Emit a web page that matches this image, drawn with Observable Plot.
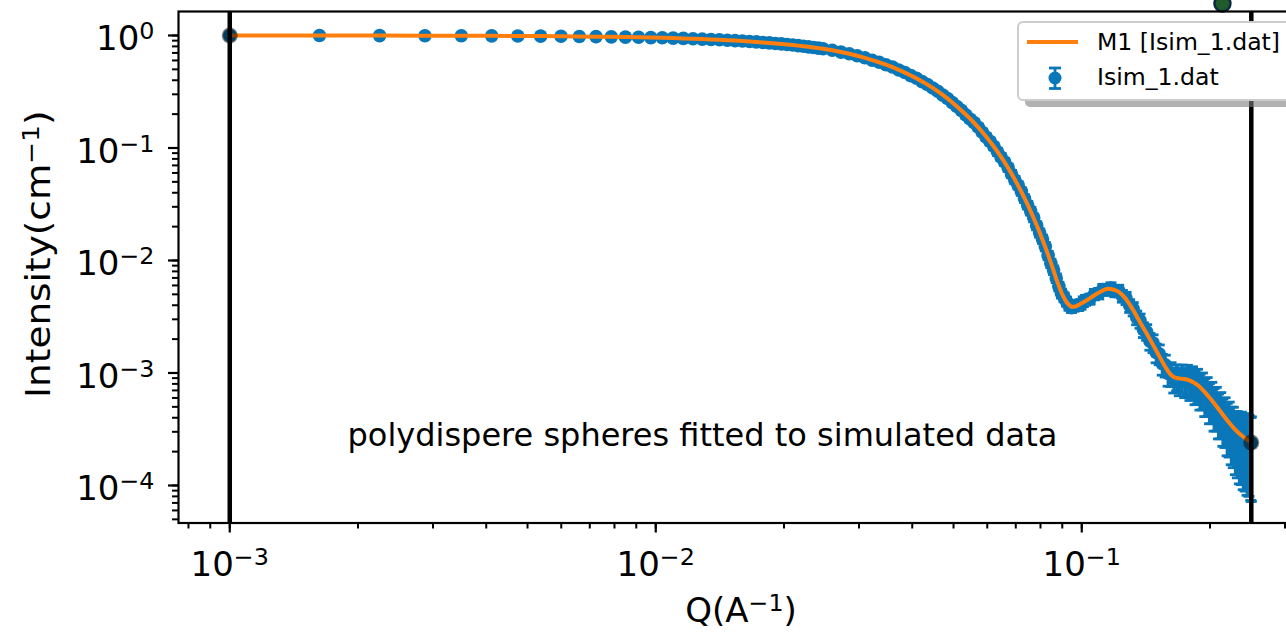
<!DOCTYPE html>
<html><head><meta charset="utf-8">
<script src="https://cdn.jsdelivr.net/npm/d3@7"></script>
<script src="https://cdn.jsdelivr.net/npm/@observablehq/plot@0.6"></script>
<style>
html,body{margin:0;padding:0;background:#fff;overflow:hidden;}
#chart{position:relative;width:1286px;height:636px;overflow:hidden;}
</style></head><body><div id="chart"></div>
<script>
// ---- data: scattering vector Q (1/A) ----
const q = [
0.001, 0.001624, 0.002248, 0.002872, 0.003496, 0.00412, 0.004744, 0.005368, 0.005992, 0.006616,
0.00724, 0.007864, 0.008488, 0.009112, 0.009736, 0.01036, 0.010984, 0.011608, 0.012232, 0.012856,
0.01348, 0.014104, 0.014728, 0.015352, 0.015976, 0.0166, 0.017224, 0.017848, 0.018472, 0.019096,
0.01972, 0.020344, 0.020968, 0.021592, 0.022216, 0.02284, 0.023464, 0.024088, 0.024712,
0.02596, 0.027208, 0.028456, 0.029704, 0.030952, 0.0322, 0.033448, 0.034696, 0.035944, 0.037192,
0.03844, 0.039688, 0.040936, 0.042184, 0.043432, 0.04468, 0.045928, 0.047176, 0.048424, 0.049672,
0.05092, 0.052168, 0.053416, 0.054664, 0.055912, 0.05716, 0.058408, 0.059656, 0.060904, 0.062152,
0.0634, 0.064648, 0.065896, 0.067144, 0.068392, 0.06964, 0.070888, 0.072136, 0.073384, 0.074632,
0.07588, 0.077128, 0.078376, 0.079624, 0.080872, 0.08212, 0.083368, 0.084616, 0.085864, 0.087112,
0.08836, 0.089608, 0.090856, 0.092104, 0.093352, 0.0946, 0.095848, 0.097096, 0.098344, 0.099592,
0.10084, 0.102088,
0.104584, 0.10708, 0.109576, 0.112072, 0.114568, 0.117064, 0.11956, 0.122056, 0.124552, 0.127048,
0.129544, 0.13204, 0.134536, 0.137032, 0.139528, 0.142024, 0.14452, 0.147016, 0.149512, 0.152008,
0.154504, 0.157, 0.159496, 0.161992, 0.164488, 0.166984, 0.16948, 0.171976, 0.174472, 0.176968,
0.179464, 0.18196, 0.184456, 0.186952, 0.189448, 0.191944, 0.19444, 0.196936, 0.199432, 0.201928,
0.204424, 0.20692, 0.209416, 0.211912, 0.214408, 0.216904, 0.2194, 0.221896, 0.224392, 0.226888,
0.229384, 0.23188, 0.234376, 0.236872, 0.239368, 0.241864, 0.24436, 0.246856, 0.249352, 0.249976];

// simulated intensity (Isim_1.dat), cm^-1
const iData = [
1.000, 0.999, 0.998, 0.996, 0.994, 0.993, 0.990, 0.987, 0.985, 0.980,
0.977, 0.973, 0.968, 0.964, 0.958, 0.954, 0.947, 0.942, 0.936, 0.929,
0.922, 0.916, 0.908, 0.900, 0.893, 0.884, 0.877, 0.867, 0.860, 0.850,
0.842, 0.831, 0.823, 0.812, 0.803, 0.792, 0.783, 0.772, 0.763,
0.740, 0.712, 0.689, 0.660, 0.634, 0.603, 0.579, 0.549, 0.524, 0.494,
0.469, 0.440, 0.417, 0.389, 0.367, 0.341, 0.319, 0.295, 0.275, 0.253,
0.234, 0.216, 0.197, 0.181, 0.168, 0.153, 0.138, 0.125, 0.1145, 0.1035,
0.0925, 0.0830, 0.0752, 0.0670, 0.0588, 0.0520, 0.0466, 0.0411, 0.0356, 0.0311,
0.0275, 0.0240, 0.0204, 0.0176, 0.0155, 0.0133, 0.0111, 0.00945, 0.00822, 0.00698,
0.00588, 0.00510, 0.00472, 0.00433, 0.00398, 0.00381, 0.00392, 0.00401, 0.00398, 0.00409,
0.00432, 0.00445,
0.00456, 0.00500, 0.00510, 0.00553, 0.00551, 0.00569, 0.00538, 0.00539, 0.00484, 0.00463,
0.00397, 0.00372, 0.00312, 0.00292, 0.00243, 0.00232, 0.00192, 0.00185, 0.00152, 0.00148,
0.00121, 0.00118, 0.000990, 0.000995, 0.000885, 0.000935, 0.000860, 0.000920, 0.000850, 0.000900,
0.000825, 0.000860, 0.000780, 0.000805, 0.000720, 0.000735, 0.000650, 0.000660, 0.000580, 0.000590,
0.000515, 0.000525, 0.000455, 0.000465, 0.000405, 0.000410, 0.000360, 0.000365, 0.000325, 0.000320,
0.000290, 0.000285, 0.000265, 0.000275, 0.000262, 0.000262, 0.000248, 0.000250, 0.000238, 0.000240];

// relative uncertainty of each simulated point
const relErr = [
0.005,0.005,0.005,0.005,0.005,0.005,0.005,0.005,0.005,0.005,
0.006,0.007,0.008,0.009,0.010,0.012,0.014,0.016,0.018,0.020,
0.021,0.022,0.023,0.024,0.025,0.026,0.027,0.028,0.029,0.030,
0.031,0.032,0.033,0.034,0.035,0.036,0.037,0.038,0.039,
0.040,0.041,0.042,0.043,0.044,0.045,0.046,0.047,0.048,0.049,
0.050,0.051,0.052,0.053,0.054,0.055,0.056,0.057,0.058,0.059,
0.060,0.061,0.062,0.063,0.064,0.065,0.066,0.067,0.068,0.069,
0.070,0.071,0.072,0.073,0.074,0.075,0.076,0.077,0.078,0.079,
0.080,0.081,0.082,0.083,0.084,0.085,0.086,0.087,0.088,0.089,
0.090,0.091,0.092,0.093,0.094,0.095,0.096,0.097,0.098,0.099,
0.100,0.102,
0.104,0.106,0.108,0.11,0.112,0.114,0.116,0.118,0.12,0.125,
0.13,0.135,0.14,0.145,0.15,0.16,0.17,0.18,0.19,0.20,
0.21,0.22,0.23,0.24,0.25,0.26,0.27,0.28,0.29,0.30,
0.31,0.32,0.33,0.34,0.35,0.36,0.37,0.38,0.39,0.40,
0.41,0.42,0.43,0.44,0.45,0.47,0.49,0.51,0.53,0.55,
0.57,0.59,0.61,0.63,0.65,0.66,0.67,0.68,0.69,0.70];

// model M1 (polydisperse spheres) on the same Q grid
const iFit = [
0.9996, 0.9988, 0.9978, 0.9963, 0.9946, 0.9925, 0.9900, 0.9873, 0.9842, 0.9807,
0.9770, 0.9729, 0.9685, 0.9637, 0.9587, 0.9534, 0.9477, 0.9418, 0.9356, 0.9291,
0.9223, 0.9153, 0.9080, 0.9004, 0.8926, 0.8846, 0.8763, 0.8678, 0.8591, 0.8502,
0.8411, 0.8318, 0.8223, 0.8126, 0.8028, 0.7928, 0.7827, 0.7724, 0.7621,
0.739, 0.714, 0.688, 0.661, 0.633, 0.605, 0.578, 0.550, 0.523, 0.4955,
0.468, 0.4413, 0.4157, 0.3905, 0.3659, 0.3419, 0.3186, 0.2961, 0.2745, 0.2535,
0.2336, 0.2154, 0.1982, 0.1822, 0.1668, 0.1525, 0.1386, 0.1258, 0.1139, 0.1030,
0.09286, 0.0835, 0.07464, 0.0666, 0.05916, 0.05245, 0.04631, 0.0408, 0.0358, 0.03133,
0.02733, 0.02377, 0.02059, 0.01779, 0.01531, 0.01314, 0.01122, 0.00957, 0.008118, 0.00687,
0.005943, 0.005188, 0.004656, 0.004266, 0.004027, 0.003873, 0.00387, 0.003936, 0.004027, 0.00414,
0.004256, 0.004365,
0.004624, 0.004909, 0.005176, 0.00542, 0.005598, 0.005572, 0.00547, 0.005272, 0.004943, 0.004539,
0.004074, 0.003622, 0.003199, 0.002825, 0.002512, 0.002239, 0.001995, 0.001778, 0.001585, 0.001413,
0.001262, 0.001135, 0.001033, 0.0009616, 0.0009204, 0.0009016, 0.0008933, 0.0008892, 0.0008831, 0.000871,
0.0008551, 0.0008337, 0.0008091, 0.0007816, 0.0007499, 0.0007129, 0.0006761, 0.0006397, 0.0006053, 0.0005715,
0.0005395, 0.0005082, 0.0004786, 0.0004519, 0.0004256, 0.0004018, 0.0003802, 0.0003606, 0.0003428, 0.0003266,
0.0003126, 0.0003006, 0.0002897, 0.0002799, 0.000271, 0.000263, 0.0002559, 0.0002495, 0.0002432, 0.0002418];

// fit range limits and their end markers
const fitRangeQ = [0.001, 0.25];
const fitEndI = [1.0, 0.000241];
// stray marker above the frame
const extraQ = [0.2139];
const extraI = [1.925];

const seriesNames = ["M1 [Isim_1.dat]", "Isim_1.dat"];
const annotationText = ["polydispere spheres fitted to simulated data"];
const annotationQ = [0.01287];
const annotationI = [2.78e-4];

const yTicks = [1, 0.1, 0.01, 0.001, 0.0001];
const yTickLabels = ["10⁰", "10⁻¹", "10⁻²", "10⁻³", "10⁻⁴"];
const xTicks = [0.001, 0.01, 0.1];
const xTickLabels = ["10⁻³", "10⁻²", "10⁻¹"];
const xLabel = ["Q(A", "−1", ")"];
const yLabel = ["Intensity(cm", "−1", ")"];

// ---- build tables ----
const rows = q.map((v, k) => ({q: v, i: iData[k], lo: iData[k] * (1 - relErr[k]), hi: iData[k] * (1 + relErr[k])}));
const fitRows = q.map((v, k) => ({q: v, i: iFit[k]}));
const endRows = fitRangeQ.map((v, k) => ({q: v, i: fitEndI[k]}));
const extraRows = extraQ.map((v, k) => ({q: v, i: extraI[k]}));
const noteRows = annotationText.map((t, k) => ({q: annotationQ[k], i: annotationI[k], t}));

const blue = "#0a77b9", orange = "#ff7f0e";
const capSymbol = {draw(ctx) { ctx.moveTo(-5.5, 0); ctx.lineTo(5.5, 0); }};

const chart = Plot.plot({
  width: 1286, height: 636,
  marginLeft: 178, marginRight: -18, marginTop: 11, marginBottom: 113.5,
  x: {type: "log", domain: [7.58e-4, 0.3333]},
  y: {type: "log", domain: [4.64e-5, 1.634]},
  style: {fontFamily: "DejaVu Sans", fontSize: "34px", color: "black", background: "white"},
  marks: [
    Plot.ruleX(rows, {x: "q", y1: "lo", y2: "hi", stroke: blue, strokeWidth: 3}),
    Plot.dot(rows, {x: "q", y: "lo", symbol: capSymbol, r: 6, stroke: blue, fill: "none", strokeWidth: 2.8}),
    Plot.dot(rows, {x: "q", y: "hi", symbol: capSymbol, r: 6, stroke: blue, fill: "none", strokeWidth: 2.8}),
    Plot.dot(rows, {x: "q", y: "i", r: 6.8, fill: blue, stroke: "none"}),
    Plot.line(fitRows, {x: "q", y: "i", stroke: orange, strokeWidth: 4}),
    Plot.ruleX(fitRangeQ, {stroke: "black", strokeWidth: 4.5}),
    Plot.dot(endRows, {x: "q", y: "i", r: 8, fill: "black", fillOpacity: 0.5, stroke: "none"}),
    Plot.dot(extraRows, {x: "q", y: "i", r: 8, fill: "#1f5c2b", stroke: "#0c2a44", strokeWidth: 2.5}),
    Plot.text(noteRows, {x: "q", y: "i", text: "t", fontSize: 32, fontFamily: "DejaVu Sans", fill: "black"}),
    Plot.frame({stroke: "black", strokeWidth: 2.2}),
    Plot.axisY({ticks: 20, tickSize: 6, tickFormat: () => "", strokeWidth: 2, label: null}),
    Plot.axisY(yTicks, {tickSize: 10, tickPadding: 14, tickFormat: d => yTickLabels[yTicks.indexOf(d)], strokeWidth: 2.2, label: null}),
    Plot.axisX({ticks: 20, tickSize: 6, tickFormat: () => "", strokeWidth: 2, label: null}),
    Plot.axisX(xTicks, {tickSize: 10, tickPadding: 18.4, tickFormat: d => xTickLabels[xTicks.indexOf(d)], strokeWidth: 2.2, label: null})
  ]
});
document.getElementById("chart").appendChild(chart);

// ---- superscripts in tick labels ----
const supMap = {"⁰":"0","¹":"1","²":"2","³":"3","⁴":"4","⁵":"5","⁶":"6","⁷":"7","⁸":"8","⁹":"9","⁻":"−"};
const ns = "http://www.w3.org/2000/svg";
chart.querySelectorAll("text").forEach(el => {
  const s = el.textContent;
  const m = /^10([⁰¹²³⁴⁵⁶⁷⁸⁹⁻]+)$/.exec(s);
  if (!m) return;
  const sup = [...m[1]].map(c => supMap[c]).join("");
  let isY = false;
  for (let p = el.parentNode; p && p !== chart; p = p.parentNode) {
    if ((p.getAttribute && (p.getAttribute("aria-label") || "")).includes("y-axis")) isY = true;
  }
  el.textContent = "";
  const a = document.createElementNS(ns, "tspan"); a.textContent = "10"; el.appendChild(a);
  const b = document.createElementNS(ns, "tspan"); b.textContent = sup;
  b.setAttribute("font-size", "23.8px"); b.setAttribute("dy", "-11"); el.appendChild(b);
  if (isY) { el.removeAttribute("dy"); el.setAttribute("y", "15"); }
});

// ---- axis labels ----
const svg = d3.select(chart);
function supLabel(g, parts) {
  g.append("tspan").text(parts[0]);
  g.append("tspan").attr("font-size", "23.8px").attr("dy", -11).text(parts[1]);
  g.append("tspan").attr("dy", 11).text(parts[2]);
}
supLabel(svg.append("text").attr("x", 741).attr("y", 622).attr("text-anchor", "middle")
  .attr("font-size", 34).attr("fill", "black"), xLabel);
supLabel(svg.append("text").attr("transform", "translate(50,398) rotate(-90) scale(1.1,1)").attr("text-anchor", "start")
  .attr("font-size", 34).attr("fill", "black"), yLabel);

// ---- legend ----
const lg = svg.append("g").attr("font-family", "DejaVu Sans").attr("font-size", 23.6).attr("text-anchor", "start");
lg.append("rect").attr("x", 1025).attr("y", 29).attr("width", 320).attr("height", 78).attr("rx", 5)
  .attr("fill", "#7f7f7f").attr("fill-opacity", 0.6);
lg.append("rect").attr("x", 1018).attr("y", 22).attr("width", 320).attr("height", 78).attr("rx", 5)
  .attr("fill", "white").attr("stroke", "#cccccc").attr("stroke-width", 2);
lg.append("line").attr("x1", 1027).attr("x2", 1078).attr("y1", 42).attr("y2", 42)
  .attr("stroke", orange).attr("stroke-width", 4);
lg.append("text").attr("x", 1097).attr("y", 50).attr("fill", "black").text(seriesNames[0]);
lg.append("line").attr("x1", 1055).attr("x2", 1055).attr("y1", 68).attr("y2", 88.5)
  .attr("stroke", blue).attr("stroke-width", 2.8);
lg.append("line").attr("x1", 1049).attr("x2", 1061).attr("y1", 68).attr("y2", 68)
  .attr("stroke", blue).attr("stroke-width", 2.8);
lg.append("line").attr("x1", 1049).attr("x2", 1061).attr("y1", 88.5).attr("y2", 88.5)
  .attr("stroke", blue).attr("stroke-width", 2.8);
lg.append("circle").attr("cx", 1055).attr("cy", 78).attr("r", 6.5).attr("fill", blue);
lg.append("text").attr("x", 1097).attr("y", 85).attr("fill", "black").text(seriesNames[1]);
</script></body></html>
